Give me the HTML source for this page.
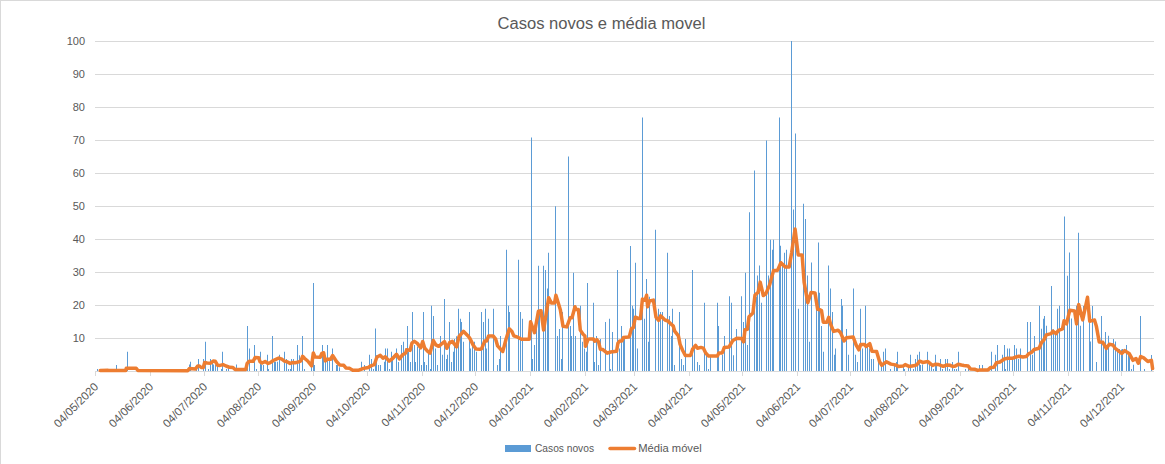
<!DOCTYPE html>
<html><head><meta charset="utf-8"><style>
html,body{margin:0;padding:0;background:#fff;}
svg{display:block;}
text{font-family:"Liberation Sans",sans-serif;fill:#595959;}
</style></head><body>
<svg width="1165" height="464" viewBox="0 0 1165 464">
<rect x="0" y="0" width="1165" height="464" fill="#fff"/>
<rect x="0" y="0" width="1165" height="1" fill="#d9d9d9"/>
<rect x="0" y="0" width="1" height="464" fill="#d9d9d9"/>
<text x="497.5" y="28.7" font-size="16" textLength="208" lengthAdjust="spacingAndGlyphs">Casos novos e média movel</text>

<rect x="95" y="41" width="1059" height="1" fill="#d9d9d9"/>
<text x="85" y="45" font-size="11" text-anchor="end">100</text>
<rect x="95" y="74" width="1059" height="1" fill="#d9d9d9"/>
<text x="85" y="78" font-size="11" text-anchor="end">90</text>
<rect x="95" y="107" width="1059" height="1" fill="#d9d9d9"/>
<text x="85" y="111" font-size="11" text-anchor="end">80</text>
<rect x="95" y="140" width="1059" height="1" fill="#d9d9d9"/>
<text x="85" y="144" font-size="11" text-anchor="end">70</text>
<rect x="95" y="173" width="1059" height="1" fill="#d9d9d9"/>
<text x="85" y="177" font-size="11" text-anchor="end">60</text>
<rect x="95" y="206" width="1059" height="1" fill="#d9d9d9"/>
<text x="85" y="210" font-size="11" text-anchor="end">50</text>
<rect x="95" y="239" width="1059" height="1" fill="#d9d9d9"/>
<text x="85" y="243" font-size="11" text-anchor="end">40</text>
<rect x="95" y="272" width="1059" height="1" fill="#d9d9d9"/>
<text x="85" y="276" font-size="11" text-anchor="end">30</text>
<rect x="95" y="305" width="1059" height="1" fill="#d9d9d9"/>
<text x="85" y="309" font-size="11" text-anchor="end">20</text>
<rect x="95" y="338" width="1059" height="1" fill="#d9d9d9"/>
<text x="85" y="342" font-size="11" text-anchor="end">10</text>
<rect x="95" y="371" width="1059" height="1" fill="#d9d9d9"/>
<rect x="95" y="371" width="1" height="5" fill="#d9d9d9"/>
<text transform="translate(97.0,385.3) rotate(-45)" x="0" y="0" font-size="11.5" text-anchor="end" dominant-baseline="middle">04/05/2020</text>
<rect x="150" y="371" width="1" height="5" fill="#d9d9d9"/>
<text transform="translate(152.0,385.3) rotate(-45)" x="0" y="0" font-size="11.5" text-anchor="end" dominant-baseline="middle">04/06/2020</text>
<rect x="204" y="371" width="1" height="5" fill="#d9d9d9"/>
<text transform="translate(206.0,385.3) rotate(-45)" x="0" y="0" font-size="11.5" text-anchor="end" dominant-baseline="middle">04/07/2020</text>
<rect x="258" y="371" width="1" height="5" fill="#d9d9d9"/>
<text transform="translate(260.0,385.3) rotate(-45)" x="0" y="0" font-size="11.5" text-anchor="end" dominant-baseline="middle">04/08/2020</text>
<rect x="313" y="371" width="1" height="5" fill="#d9d9d9"/>
<text transform="translate(315.0,385.3) rotate(-45)" x="0" y="0" font-size="11.5" text-anchor="end" dominant-baseline="middle">04/09/2020</text>
<rect x="367" y="371" width="1" height="5" fill="#d9d9d9"/>
<text transform="translate(369.0,385.3) rotate(-45)" x="0" y="0" font-size="11.5" text-anchor="end" dominant-baseline="middle">04/10/2020</text>
<rect x="422" y="371" width="1" height="5" fill="#d9d9d9"/>
<text transform="translate(424.0,385.3) rotate(-45)" x="0" y="0" font-size="11.5" text-anchor="end" dominant-baseline="middle">04/11/2020</text>
<rect x="475" y="371" width="1" height="5" fill="#d9d9d9"/>
<text transform="translate(477.0,385.3) rotate(-45)" x="0" y="0" font-size="11.5" text-anchor="end" dominant-baseline="middle">04/12/2020</text>
<rect x="530" y="371" width="1" height="5" fill="#d9d9d9"/>
<text transform="translate(532.0,385.3) rotate(-45)" x="0" y="0" font-size="11.5" text-anchor="end" dominant-baseline="middle">04/01/2021</text>
<rect x="585" y="371" width="1" height="5" fill="#d9d9d9"/>
<text transform="translate(587.0,385.3) rotate(-45)" x="0" y="0" font-size="11.5" text-anchor="end" dominant-baseline="middle">04/02/2021</text>
<rect x="634" y="371" width="1" height="5" fill="#d9d9d9"/>
<text transform="translate(636.0,385.3) rotate(-45)" x="0" y="0" font-size="11.5" text-anchor="end" dominant-baseline="middle">04/03/2021</text>
<rect x="689" y="371" width="1" height="5" fill="#d9d9d9"/>
<text transform="translate(691.0,385.3) rotate(-45)" x="0" y="0" font-size="11.5" text-anchor="end" dominant-baseline="middle">04/04/2021</text>
<rect x="742" y="371" width="1" height="5" fill="#d9d9d9"/>
<text transform="translate(744.0,385.3) rotate(-45)" x="0" y="0" font-size="11.5" text-anchor="end" dominant-baseline="middle">04/05/2021</text>
<rect x="797" y="371" width="1" height="5" fill="#d9d9d9"/>
<text transform="translate(799.0,385.3) rotate(-45)" x="0" y="0" font-size="11.5" text-anchor="end" dominant-baseline="middle">04/06/2021</text>
<rect x="850" y="371" width="1" height="5" fill="#d9d9d9"/>
<text transform="translate(852.0,385.3) rotate(-45)" x="0" y="0" font-size="11.5" text-anchor="end" dominant-baseline="middle">04/07/2021</text>
<rect x="905" y="371" width="1" height="5" fill="#d9d9d9"/>
<text transform="translate(907.0,385.3) rotate(-45)" x="0" y="0" font-size="11.5" text-anchor="end" dominant-baseline="middle">04/08/2021</text>
<rect x="960" y="371" width="1" height="5" fill="#d9d9d9"/>
<text transform="translate(962.0,385.3) rotate(-45)" x="0" y="0" font-size="11.5" text-anchor="end" dominant-baseline="middle">04/09/2021</text>
<rect x="1013" y="371" width="1" height="5" fill="#d9d9d9"/>
<text transform="translate(1015.0,385.3) rotate(-45)" x="0" y="0" font-size="11.5" text-anchor="end" dominant-baseline="middle">04/10/2021</text>
<rect x="1068" y="371" width="1" height="5" fill="#d9d9d9"/>
<text transform="translate(1070.0,385.3) rotate(-45)" x="0" y="0" font-size="11.5" text-anchor="end" dominant-baseline="middle">04/11/2021</text>
<rect x="1121" y="371" width="1" height="5" fill="#d9d9d9"/>
<text transform="translate(1123.0,385.3) rotate(-45)" x="0" y="0" font-size="11.5" text-anchor="end" dominant-baseline="middle">04/12/2021</text>
<rect x="95" y="371" width="1059" height="1" fill="#d9d9d9"/>
<path d="M97 368.9h1V371h-1zM116 365.0h1V371h-1zM127 351.7h1V371h-1zM180 368.9h1V371h-1zM189 364.6h1V371h-1zM190 361.7h1V371h-1zM196 365.1h1V371h-1zM198 358.9h1V371h-1zM203 358.9h1V371h-1zM205 341.8h1V371h-1zM208 368.9h1V371h-1zM210 358.9h1V371h-1zM212 362.0h1V371h-1zM213 364.6h1V371h-1zM215 364.6h1V371h-1zM217 366.3h1V371h-1zM221 368.9h1V371h-1zM222 351.7h1V371h-1zM226 368.9h1V371h-1zM228 365.1h1V371h-1zM236 364.6h1V371h-1zM247 326.0h1V371h-1zM249 348.6h1V371h-1zM254 344.9h1V371h-1zM256 368.9h1V371h-1zM260 351.7h1V371h-1zM261 364.6h1V371h-1zM263 365.1h1V371h-1zM267 354.8h1V371h-1zM268 368.9h1V371h-1zM272 335.9h1V371h-1zM274 361.7h1V371h-1zM275 361.7h1V371h-1zM277 361.7h1V371h-1zM279 354.8h1V371h-1zM284 351.7h1V371h-1zM286 358.9h1V371h-1zM288 368.9h1V371h-1zM290 368.9h1V371h-1zM291 358.9h1V371h-1zM293 358.9h1V371h-1zM297 344.9h1V371h-1zM299 355.2h1V371h-1zM302 335.9h1V371h-1zM304 368.9h1V371h-1zM311 365.5h1V371h-1zM313 283.0h1V371h-1zM314 365.1h1V371h-1zM322 344.9h1V371h-1zM323 355.2h1V371h-1zM325 362.0h1V371h-1zM327 344.9h1V371h-1zM329 358.9h1V371h-1zM332 348.6h1V371h-1zM336 365.1h1V371h-1zM337 365.1h1V371h-1zM339 367.2h1V371h-1zM361 361.7h1V371h-1zM364 365.1h1V371h-1zM369 354.8h1V371h-1zM371 358.9h1V371h-1zM373 368.9h1V371h-1zM375 328.6h1V371h-1zM376 355.2h1V371h-1zM378 365.1h1V371h-1zM380 365.1h1V371h-1zM384 361.7h1V371h-1zM385 348.6h1V371h-1zM387 348.6h1V371h-1zM389 368.9h1V371h-1zM391 351.7h1V371h-1zM392 358.9h1V371h-1zM396 348.6h1V371h-1zM398 362.0h1V371h-1zM401 344.9h1V371h-1zM403 341.8h1V371h-1zM405 348.6h1V371h-1zM407 326.0h1V371h-1zM408 351.7h1V371h-1zM410 362.0h1V371h-1zM412 311.9h1V371h-1zM414 344.9h1V371h-1zM415 362.0h1V371h-1zM417 346.6h1V371h-1zM419 348.6h1V371h-1zM421 365.1h1V371h-1zM423 311.9h1V371h-1zM424 362.0h1V371h-1zM426 365.1h1V371h-1zM428 351.7h1V371h-1zM430 368.9h1V371h-1zM431 305.7h1V371h-1zM433 316.0h1V371h-1zM435 348.6h1V371h-1zM437 365.1h1V371h-1zM440 335.9h1V371h-1zM442 354.8h1V371h-1zM444 298.9h1V371h-1zM446 358.9h1V371h-1zM447 354.8h1V371h-1zM449 322.0h1V371h-1zM451 362.0h1V371h-1zM453 351.7h1V371h-1zM454 338.9h1V371h-1zM456 336.3h1V371h-1zM458 308.8h1V371h-1zM460 318.8h1V371h-1zM461 322.0h1V371h-1zM463 341.8h1V371h-1zM469 311.9h1V371h-1zM470 348.6h1V371h-1zM472 344.9h1V371h-1zM474 341.8h1V371h-1zM476 351.7h1V371h-1zM481 311.9h1V371h-1zM483 322.0h1V371h-1zM485 308.8h1V371h-1zM486 348.6h1V371h-1zM488 318.8h1V371h-1zM493 308.8h1V371h-1zM497 365.1h1V371h-1zM499 358.9h1V371h-1zM500 335.9h1V371h-1zM506 249.8h1V371h-1zM508 305.7h1V371h-1zM509 311.9h1V371h-1zM518 259.8h1V371h-1zM520 311.9h1V371h-1zM522 318.8h1V371h-1zM531 137.4h1V371h-1zM532 358.9h1V371h-1zM534 344.9h1V371h-1zM536 326.0h1V371h-1zM538 265.8h1V371h-1zM539 311.9h1V371h-1zM543 265.8h1V371h-1zM545 269.9h1V371h-1zM547 288.5h1V371h-1zM548 252.8h1V371h-1zM555 206.3h1V371h-1zM557 335.9h1V371h-1zM559 329.1h1V371h-1zM561 358.9h1V371h-1zM562 311.9h1V371h-1zM568 156.5h1V371h-1zM570 326.0h1V371h-1zM571 335.9h1V371h-1zM573 272.7h1V371h-1zM575 335.9h1V371h-1zM580 305.7h1V371h-1zM582 341.8h1V371h-1zM584 348.6h1V371h-1zM586 351.7h1V371h-1zM587 283.0h1V371h-1zM593 302.8h1V371h-1zM594 362.0h1V371h-1zM596 335.9h1V371h-1zM598 365.1h1V371h-1zM600 338.9h1V371h-1zM605 322.0h1V371h-1zM609 318.8h1V371h-1zM610 368.9h1V371h-1zM612 332.0h1V371h-1zM617 269.9h1V371h-1zM619 348.6h1V371h-1zM621 326.0h1V371h-1zM623 338.9h1V371h-1zM624 338.9h1V371h-1zM630 245.9h1V371h-1zM632 305.7h1V371h-1zM633 308.8h1V371h-1zM635 262.7h1V371h-1zM637 348.6h1V371h-1zM642 117.5h1V371h-1zM644 318.8h1V371h-1zM646 279.0h1V371h-1zM648 341.8h1V371h-1zM649 296.8h1V371h-1zM655 229.8h1V371h-1zM658 308.8h1V371h-1zM660 311.9h1V371h-1zM662 311.9h1V371h-1zM667 252.8h1V371h-1zM669 316.0h1V371h-1zM671 335.9h1V371h-1zM672 308.8h1V371h-1zM674 365.1h1V371h-1zM679 311.9h1V371h-1zM681 358.9h1V371h-1zM683 365.1h1V371h-1zM685 338.9h1V371h-1zM692 269.9h1V371h-1zM694 348.6h1V371h-1zM697 362.0h1V371h-1zM699 365.1h1V371h-1zM704 302.8h1V371h-1zM706 354.8h1V371h-1zM708 368.9h1V371h-1zM710 356.9h1V371h-1zM717 302.8h1V371h-1zM718 326.0h1V371h-1zM722 354.8h1V371h-1zM724 335.9h1V371h-1zM729 296.2h1V371h-1zM731 302.8h1V371h-1zM733 355.2h1V371h-1zM736 329.1h1V371h-1zM741 296.2h1V371h-1zM743 322.0h1V371h-1zM745 272.7h1V371h-1zM747 344.9h1V371h-1zM749 212.3h1V371h-1zM754 170.5h1V371h-1zM756 296.8h1V371h-1zM757 275.6h1V371h-1zM759 265.6h1V371h-1zM761 302.8h1V371h-1zM766 140.6h1V371h-1zM768 275.6h1V371h-1zM770 239.8h1V371h-1zM772 249.8h1V371h-1zM773 239.8h1V371h-1zM779 117.5h1V371h-1zM780 245.8h1V371h-1zM782 265.2h1V371h-1zM784 252.8h1V371h-1zM786 249.7h1V371h-1zM791 41.0h1V371h-1zM793 209.6h1V371h-1zM795 133.4h1V371h-1zM798 308.8h1V371h-1zM803 203.8h1V371h-1zM805 219.1h1V371h-1zM807 275.6h1V371h-1zM809 341.8h1V371h-1zM811 262.6h1V371h-1zM816 296.8h1V371h-1zM818 242.6h1V371h-1zM819 292.8h1V371h-1zM821 326.0h1V371h-1zM823 351.7h1V371h-1zM828 265.6h1V371h-1zM830 288.5h1V371h-1zM832 311.9h1V371h-1zM834 354.8h1V371h-1zM835 348.6h1V371h-1zM841 298.9h1V371h-1zM842 305.7h1V371h-1zM846 329.1h1V371h-1zM848 354.8h1V371h-1zM853 288.5h1V371h-1zM855 354.8h1V371h-1zM857 362.0h1V371h-1zM860 308.8h1V371h-1zM862 348.6h1V371h-1zM865 305.7h1V371h-1zM867 346.6h1V371h-1zM869 348.6h1V371h-1zM871 358.9h1V371h-1zM873 358.9h1V371h-1zM878 361.7h1V371h-1zM881 365.1h1V371h-1zM883 351.7h1V371h-1zM885 348.6h1V371h-1zM890 368.9h1V371h-1zM894 365.1h1V371h-1zM896 362.0h1V371h-1zM897 351.7h1V371h-1zM903 365.1h1V371h-1zM904 368.9h1V371h-1zM908 368.0h1V371h-1zM910 354.8h1V371h-1zM913 368.9h1V371h-1zM915 358.9h1V371h-1zM917 354.8h1V371h-1zM919 351.7h1V371h-1zM920 365.1h1V371h-1zM922 364.6h1V371h-1zM927 351.7h1V371h-1zM929 365.1h1V371h-1zM931 365.1h1V371h-1zM933 368.9h1V371h-1zM935 354.8h1V371h-1zM936 365.1h1V371h-1zM940 358.9h1V371h-1zM942 368.9h1V371h-1zM945 358.9h1V371h-1zM947 358.9h1V371h-1zM949 368.9h1V371h-1zM952 362.0h1V371h-1zM954 368.9h1V371h-1zM956 368.9h1V371h-1zM958 351.7h1V371h-1zM965 368.9h1V371h-1zM968 368.9h1V371h-1zM979 365.1h1V371h-1zM982 365.1h1V371h-1zM991 351.7h1V371h-1zM995 354.8h1V371h-1zM997 344.9h1V371h-1zM1002 354.8h1V371h-1zM1004 344.9h1V371h-1zM1005 368.9h1V371h-1zM1007 348.6h1V371h-1zM1009 348.6h1V371h-1zM1012 358.9h1V371h-1zM1014 344.9h1V371h-1zM1016 348.6h1V371h-1zM1018 358.9h1V371h-1zM1020 348.6h1V371h-1zM1027 322.0h1V371h-1zM1030 322.0h1V371h-1zM1032 354.8h1V371h-1zM1034 335.9h1V371h-1zM1039 305.7h1V371h-1zM1041 328.7h1V371h-1zM1043 318.7h1V371h-1zM1044 315.9h1V371h-1zM1046 325.8h1V371h-1zM1051 286.1h1V371h-1zM1053 329.2h1V371h-1zM1055 334.1h1V371h-1zM1057 308.8h1V371h-1zM1059 305.7h1V371h-1zM1064 216.6h1V371h-1zM1067 275.7h1V371h-1zM1069 252.6h1V371h-1zM1071 318.4h1V371h-1zM1076 305.7h1V371h-1zM1078 232.8h1V371h-1zM1080 325.8h1V371h-1zM1083 305.9h1V371h-1zM1089 318.4h1V371h-1zM1090 341.6h1V371h-1zM1092 305.9h1V371h-1zM1096 361.9h1V371h-1zM1101 315.9h1V371h-1zM1103 342.4h1V371h-1zM1105 332.0h1V371h-1zM1106 346.6h1V371h-1zM1108 335.8h1V371h-1zM1113 339.1h1V371h-1zM1115 341.6h1V371h-1zM1117 351.6h1V371h-1zM1119 349.1h1V371h-1zM1121 349.6h1V371h-1zM1122 349.1h1V371h-1zM1126 344.9h1V371h-1zM1128 354.1h1V371h-1zM1129 356.6h1V371h-1zM1131 369.0h1V371h-1zM1133 364.8h1V371h-1zM1140 315.9h1V371h-1zM1144 369.0h1V371h-1zM1151 354.9h1V371h-1z" fill="#5b9bd5"/>
<polyline points="100.2,370.4 107.9,370.3 108.7,370.6 125.7,370.6 126.3,368.2 136.2,368.2 137.9,370.6 187.7,370.8 189.4,368.5 195.3,369.1 197.7,366.0 199.4,366.0 201.2,367.5 203.3,367.5 204.6,362.6 207.2,363.0 210.6,363.2 213.2,361.1 215.3,361.3 217.5,365.2 220.0,365.4 223.0,364.6 226.1,366.0 229.5,367.3 232.9,367.5 235.1,369.5 245.8,369.5 247.1,363.5 249.2,361.3 253.1,361.3 255.2,357.4 258.7,357.7 260.0,361.7 262.1,363.0 265.1,361.5 268.1,363.5 270.3,362.6 273.3,360.5 275.8,359.4 278.8,358.0 281.8,359.2 284.4,361.1 287.0,361.7 290.1,363.4 292.7,362.5 295.3,362.7 298.7,361.9 300.9,361.0 302.6,356.3 304.7,358.5 307.7,361.0 311.6,365.8 313.3,352.9 315.0,357.0 320.2,357.2 321.9,353.3 323.6,352.7 325.3,361.0 327.1,359.3 330.5,359.3 332.6,355.5 336.5,361.5 339.9,365.1 343.8,365.3 345.9,367.9 349.4,368.3 352.8,370.2 358.8,370.2 362.3,368.8 365.7,367.9 368.3,367.5 370.8,365.8 374.3,364.7 376.8,357.2 380.3,355.3 382.9,358.2 385.2,356.8 389.2,361.1 392.6,358.5 396.5,354.3 399.4,358.9 402.3,355.1 405.7,353.1 406.7,349.7 410.1,350.4 412.0,342.9 414.4,341.3 417.3,343.4 420.7,347.8 422.7,341.5 424.6,347.8 427.5,351.2 430.0,353.1 433.3,340.5 435.8,344.9 438.7,346.3 444.5,341.5 446.9,348.3 449.8,342.3 452.3,341.3 456.6,346.8 459.0,336.6 463.4,331.3 468.3,336.2 469.7,338.1 473.1,344.9 476.0,349.1 480.0,349.2 481.5,348.9 484.7,341.1 486.6,341.1 488.6,335.9 493.1,335.9 495.7,339.2 497.6,345.9 500.9,349.5 502.8,351.4 506.0,339.2 509.3,328.8 511.9,331.4 513.8,335.9 517.7,337.2 521.6,339.2 529.3,339.2 530.6,321.7 532.6,327.5 534.5,332.7 538.4,311.3 541.0,310.7 543.6,330.1 548.7,297.8 551.3,302.9 554.6,302.9 555.9,295.2 560.4,310.1 563.0,326.2 566.8,326.9 570.1,317.8 572.0,317.8 575.0,306.8 575.8,309.4 578.4,309.4 580.3,330.1 582.9,334.0 584.9,335.9 585.5,346.3 588.1,339.2 590.0,339.1 593.4,338.9 594.7,341.2 596.9,339.7 598.6,341.9 600.3,349.2 602.9,349.6 607.2,353.2 610.6,352.0 616.6,351.3 617.9,343.2 619.6,341.0 621.8,341.0 623.5,337.6 628.6,337.1 629.5,335.9 631.4,328.8 633.4,327.5 635.3,317.2 638.6,318.5 640.5,318.5 642.4,299.1 645.0,300.3 646.6,295.2 647.6,306.8 649.6,301.0 653.4,300.1 656.0,317.2 658.6,320.4 660.6,315.9 665.0,320.0 667.9,321.0 670.8,323.9 673.2,325.8 674.7,331.2 678.4,335.9 680.1,344.4 682.7,350.5 685.3,355.4 690.0,355.6 690.7,355.1 692.6,349.1 695.6,345.4 697.5,348.3 700.9,347.4 703.3,348.1 705.7,353.0 708.6,356.1 717.4,356.1 718.8,353.0 722.2,353.0 724.2,347.6 729.0,347.0 732.9,340.4 736.8,338.2 741.6,338.4 743.6,341.8 745.0,329.7 747.4,329.2 749.0,316.8 752.9,313.1 755.0,295.0 758.1,292.4 760.2,282.1 763.3,295.5 765.9,293.7 769.7,284.6 773.6,270.4 777.5,270.4 780.9,262.7 785.3,267.1 789.1,267.1 791.7,252.3 795.1,229.1 798.2,254.9 802.1,254.9 804.1,282.1 807.8,302.8 811.1,292.4 815.0,292.9 817.6,309.2 820.0,309.8 821.5,310.6 823.3,322.3 826.8,322.3 828.7,317.3 830.6,324.1 833.6,331.4 838.1,330.2 840.4,332.4 844.1,341.0 846.4,337.7 853.2,337.0 856.2,345.2 858.9,349.8 860.7,344.5 864.5,344.5 866.0,346.5 869.8,343.7 872.0,351.3 876.6,351.6 879.6,361.8 881.8,365.2 886.4,361.8 890.9,364.1 895.4,364.9 898.4,366.4 903.0,366.1 905.2,364.6 909.0,366.4 915.0,365.5 917.1,364.6 919.7,361.0 922.7,362.4 927.9,361.6 930.0,363.3 932.6,365.5 935.6,364.2 938.2,364.4 940.8,365.5 943.3,366.3 946.8,365.0 950.2,365.3 952.8,366.5 955.3,366.1 958.3,364.2 961.4,365.0 963.9,365.5 968.2,366.1 970.4,368.9 975.1,369.3 977.7,370.4 980.2,369.9 982.8,369.9 988.0,369.9 990.5,367.6 994.0,367.2 996.5,362.7 1000.0,362.0 1004.3,359.0 1007.7,358.2 1012.9,358.2 1015.0,357.3 1018.9,356.2 1022.9,357.0 1026.2,356.6 1028.6,353.8 1031.8,352.2 1034.2,349.5 1039.1,348.2 1041.5,342.5 1043.9,340.1 1046.3,334.9 1051.2,333.6 1052.8,331.2 1056.0,333.6 1058.5,330.4 1062.5,328.8 1064.1,320.7 1066.5,323.9 1069.8,310.2 1074.6,311.0 1076.6,323.9 1078.7,304.5 1082.7,319.9 1087.5,297.3 1089.7,321.2 1092.1,320.6 1094.5,320.0 1096.3,325.9 1099.2,341.9 1102.8,342.3 1106.3,348.4 1109.3,344.3 1112.9,344.9 1115.2,348.4 1118.2,350.6 1121.7,353.4 1124.7,350.6 1129.4,353.8 1133.0,360.3 1136.0,358.5 1138.3,363.3 1140.7,356.5 1143.7,357.9 1147.8,361.5 1151.4,360.3 1152.6,368.6" fill="none" stroke="#ed7d31" stroke-width="3.5" stroke-linejoin="round" stroke-linecap="round"/>
<rect x="505" y="445" width="26" height="7" fill="#5b9bd5"/>
<text x="535" y="452" font-size="11" textLength="59" lengthAdjust="spacingAndGlyphs">Casos novos</text>
<line x1="610" y1="448.5" x2="634.5" y2="448.5" stroke="#ed7d31" stroke-width="3.5" stroke-linecap="round"/>
<text x="638.2" y="452" font-size="11" textLength="63.5" lengthAdjust="spacingAndGlyphs">Média móvel</text>
</svg></body></html>
